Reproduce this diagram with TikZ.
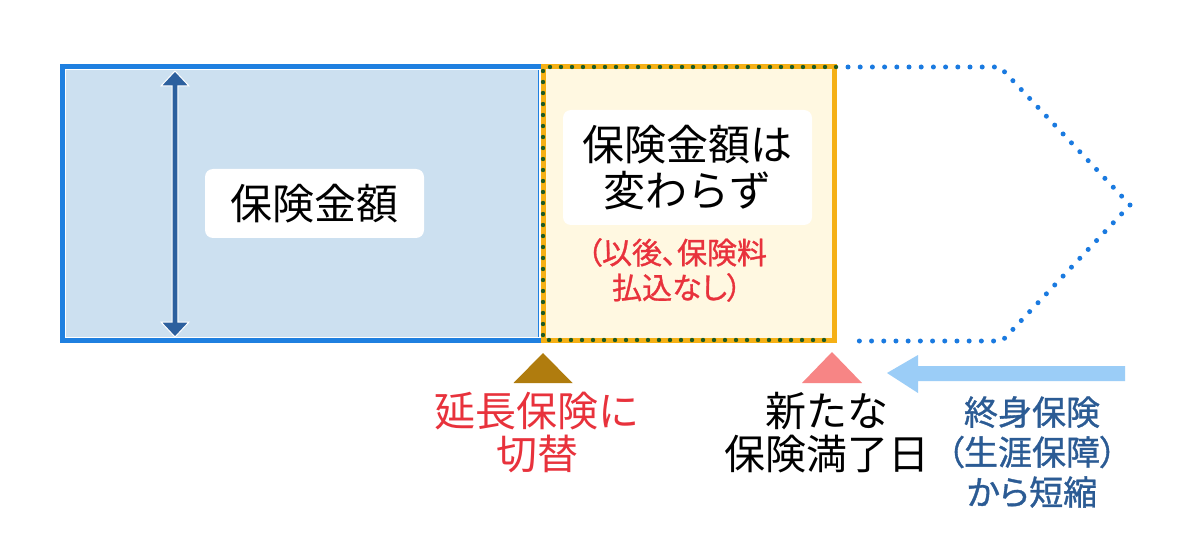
\documentclass[tikz,border=0pt]{standalone}
\usepackage{fontspec}
\setmainfont{Noto Sans CJK JP}
\newfontfamily\jpfont{Noto Sans CJK JP}
\newfontfamily\jpmed{Noto Sans CJK JP}[RawFeature=+palt, FakeBold=1]
\usetikzlibrary{calc}
\definecolor{boxblue}{HTML}{CCE0F0}
\definecolor{edgeblue}{HTML}{1F80E0}
\definecolor{boxcream}{HTML}{FFF8E1}
\definecolor{edgeorange}{HTML}{F5B015}
\definecolor{dotgreen}{HTML}{1E5B23}
\definecolor{dotblue}{HTML}{1A7AE0}
\definecolor{darkarrow}{HTML}{2D609E}
\definecolor{brownmark}{HTML}{B07C0E}
\definecolor{pinkmark}{HTML}{F78585}
\definecolor{redtext}{HTML}{E8323C}
\definecolor{bluetext}{HTML}{2B5B94}
\definecolor{lightarrow}{HTML}{9BCDF7}
\tikzset{
  label box/.style={fill=white, rounded corners=8pt, draw=none},
  big text/.style={font=\jpfont\fontsize{42}{46}\selectfont, align=center, inner sep=0pt},
  red note/.style={font=\jpmed\fontsize{30}{35}\selectfont, text=redtext, align=center, inner sep=0pt},
  low text/.style={font=\jpfont\fontsize{41}{43}\selectfont, align=center, inner sep=0pt},
  blue note/.style={font=\jpmed\fontsize{34}{40}\selectfont, text=bluetext, align=center, inner sep=0pt},
}
\begin{document}
\begin{tikzpicture}[x=1pt,y=-1pt]
\useasboundingbox (0,0) rectangle (1200,540);
\fill[white] (0,0) rectangle (1200,540);
% left box
\fill[boxblue] (60,64) rectangle (540,343);
\draw[edgeblue, line width=5pt] (62.5,66.5) rectangle (540,340.5);
\draw[white, line width=1.2pt] (65.6,69.6) rectangle (540,337.4);
% middle box
\fill[boxcream] (543,67) rectangle (834.5,340);
\draw[edgeorange, line width=5pt] (543,67) rectangle (834.5,340);
\draw[dotgreen, line width=4.4pt, line cap=round, dash pattern=on 0pt off 11pt] (836,67) -- (543,67) -- (543,340) -- (832,340);
% dotted extension
\coordinate (ext1) at (848,67);
\coordinate (ext2) at (1000,67);
\coordinate (tip) at (1130,205);
\coordinate (ext3) at (1002,341);
\coordinate (ext4) at (848,341);
\draw[dotblue, line width=5pt, line cap=round, dash pattern=on 0pt off 12.2pt] (ext1) -- (ext2) -- (tip) -- (ext3) -- (ext4);
% double arrow
\filldraw[fill=darkarrow, draw=white, line width=1pt]
  (175,71) -- (189,86) -- (177.8,86) -- (177.8,322) -- (189,322) -- (175,337)
  -- (161,322) -- (172.2,322) -- (172.2,86) -- (161,86) -- cycle;
% labels in boxes
\node[label box, minimum width=219pt, minimum height=69pt] (lbox) at (314.5,203.5) {};
\node[big text] (lsum) at (lbox.center) {保険金額};
\node[label box, minimum width=249pt, minimum height=115pt] (mbox) at (687.5,167.5) {};
\node[big text] (msum) at (mbox.center) {保険金額は\\変わらず};
\node[red note] (mnote) at (677,270) {（以後、保険料\\払込なし）};
% triangles
\coordinate (t1) at (543,353);
\coordinate (t2) at (832,352);
\fill[brownmark] (t1) -- ++(29.5,30) -- ++(-59,0) -- cycle;
\fill[pinkmark] (t2) -- ++(30,31) -- ++(-60,0) -- cycle;
% light arrow
\fill[lightarrow] (887,373) -- (918,355) -- (918,366) -- (1125,366) -- (1125,381) -- (918,381) -- (918,393) -- cycle;
% bottom labels
\node[low text, text=redtext] (switch) at (537,433) {延長保険に\\切替};
\node[low text] (newend) at (827,433) {新たな\\保険満了日};
\node[blue note] (shorten) at (1032,452) {終身保険\\（生涯保障）\\から短縮};
\end{tikzpicture}
\end{document}
